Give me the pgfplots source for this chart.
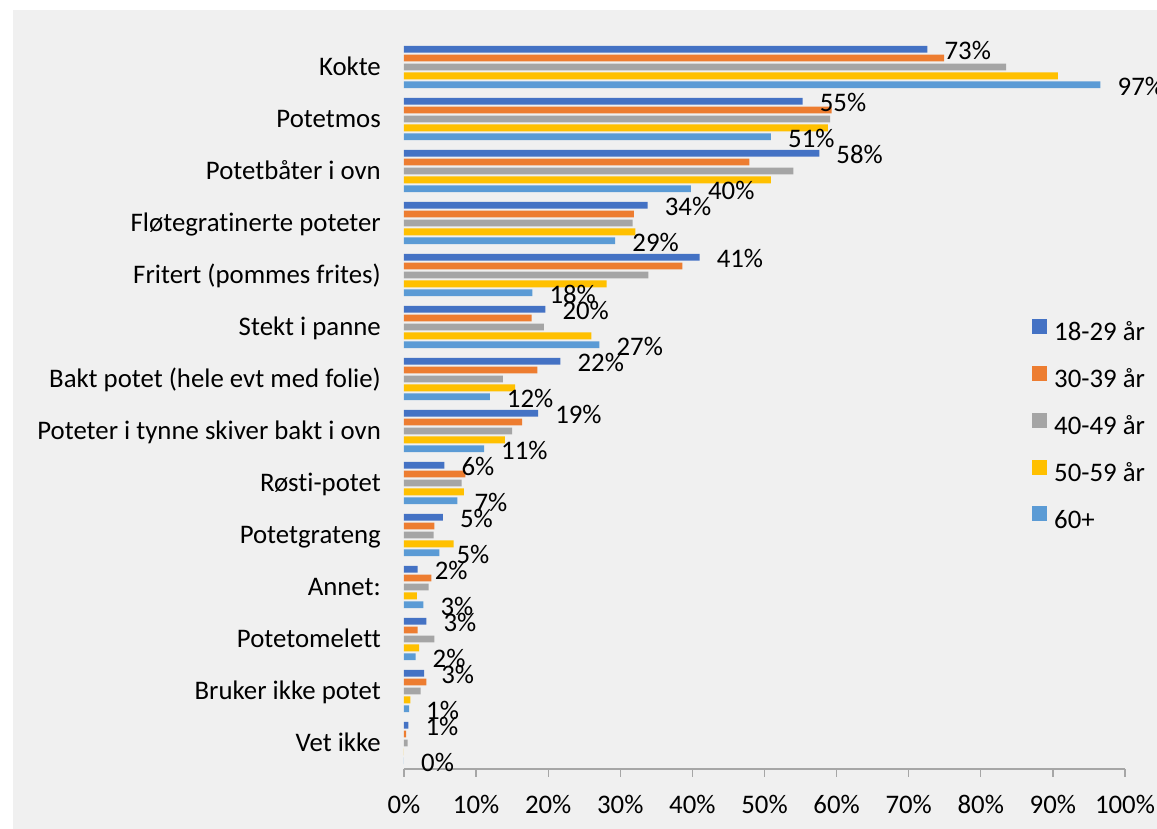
\documentclass[border=0pt]{standalone}
\usepackage{pgfplots}
\pgfplotsset{compat=1.18}
\usepackage{pgfplotstable}
\usepackage{fontspec}
\setmainfont{Carlito}[Ligatures=NoCommon]
\definecolor{cA}{HTML}{4472C4}
\definecolor{cB}{HTML}{ED7D31}
\definecolor{cC}{HTML}{A5A5A5}
\definecolor{cD}{HTML}{FFC000}
\definecolor{cE}{HTML}{5B9BD5}
\definecolor{bgG}{HTML}{F0F0F0}
\definecolor{axG}{HTML}{A6A6A6}
% y: 13 = Kokte (top) ... 0 = Vet ikke (bottom)
\pgfplotstableread{
y  a     b     c     d     e
13 72.6  74.9  83.5  90.7  96.6
12 55.3  59.3  59.1  58.8  50.9
11 57.6  47.9  54.0  50.9  39.8
10 33.8  31.9  31.7  32.1  29.3
9  41.0  38.6  33.9  28.1  17.8
8  19.6  17.7  19.4  26.0  27.1
7  21.7  18.5  13.7  15.4  11.9
6  18.6  16.4  15.0  14.0  11.1
5  5.6   8.5   8.0   8.3   7.4
4  5.4   4.2   4.1   6.9   4.9
3  1.9   3.8   3.4   1.8   2.7
2  3.1   1.9   4.2   2.1   1.6
1  2.8   3.1   2.3   0.9   0.7
0  0.6   0.3   0.5   0.0   0.0
}\datatab
\begin{document}
\begin{tikzpicture}
\fill[white] (-404pt,-60pt) rectangle (753pt,769pt);
\fill[bgG] (-391pt,-60pt) rectangle (753pt,759pt);
\begin{axis}[
  at={(0pt,0pt)}, anchor=south west,
  scale only axis, width=721pt, height=728pt,
  xbar, bar width=6.8pt,
  xmin=0, xmax=100, ymin=-0.5, ymax=13.5,
  xtick={0,10,...,100},
  xticklabels={0\%,10\%,20\%,30\%,40\%,50\%,60\%,70\%,80\%,90\%,100\%},
  ytick={0,...,13},
  yticklabels={Vet ikke,Bruker ikke potet,Potetomelett,Annet:,Potetgrateng,Røsti-potet,Poteter i tynne skiver bakt i ovn,Bakt potet (hele evt med folie),Stekt i panne,Fritert (pommes frites),Fløtegratinerte poteter,Potetbåter i ovn,Potetmos,Kokte},
  axis y line*=left,
  y axis line style={draw=none},
  axis x line*=bottom,
  x axis line style={draw=axG, line width=1.3pt, -},
  xtick style={draw=axG, line width=1.3pt},
  tick align=outside, major tick length=8pt,
  ytick style={draw=none},
  ticklabel style={font=\fontsize{26.8}{31}\selectfont, text=black},
  xticklabel style={inner sep=0pt, text height=17pt, text depth=0pt, anchor=north, yshift=-19pt},
  yticklabel style={inner sep=0pt, text height=17pt, text depth=0pt, anchor=east, xshift=-15pt},
  /pgf/number format/assume math mode=true,
  legend style={at={(625pt,452pt)}, anchor=north west, draw=none, fill=none,
    font=\fontsize{26.8}{31}\selectfont, row sep=19pt, column sep=7pt,
    nodes={inner sep=0pt, text height=18pt, text depth=6pt}},
  legend cell align=left,
  legend image code/.code={\fill[#1] (0pt,0.8pt) rectangle (15pt,15.8pt);},
  lbl/.style={nodes near coords={\pgfmathprintnumber[fixed,precision=0]{\pgfplotspointmeta}\%},
    nodes near coords style={font=\fontsize{26.8}{31}\selectfont, text=black, anchor=west,
      inner sep=0pt, xshift=17pt, yshift=-2pt, text height=17pt, text depth=0pt}},
]
\addplot[draw=none, fill=cA, bar shift=17.8pt, lbl] table[x=a, y=y] {\datatab};
\addplot[draw=none, fill=cB, bar shift=8.9pt] table[x=b, y=y] {\datatab};
\addplot[draw=none, fill=cC, bar shift=0pt] table[x=c, y=y] {\datatab};
\addplot[draw=none, fill=cD, bar shift=-8.9pt] table[x=d, y=y] {\datatab};
\addplot[draw=none, fill=cE, bar shift=-17.8pt, lbl] table[x=e, y=y] {\datatab};
\legend{18-29 år,30-39 år,40-49 år,50-59 år,60+}
\end{axis}
\pgfresetboundingbox
\path[use as bounding box] (-404pt,-60pt) rectangle (753pt,769pt);
\end{tikzpicture}
\end{document}
